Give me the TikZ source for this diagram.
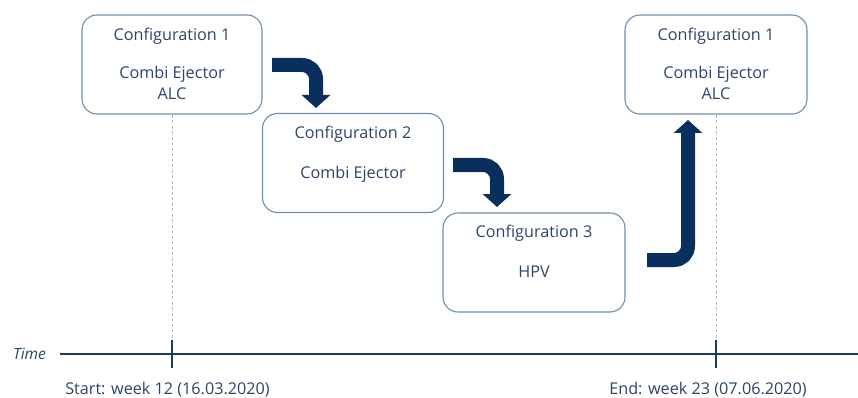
\documentclass[tikz,border=0pt]{standalone}
\usepackage{fontspec}
\setmainfont{Open Sans}
\usetikzlibrary{arrows.meta}
\definecolor{navy}{HTML}{0B2F5C}
\definecolor{txt}{HTML}{2C4566}
\definecolor{boxline}{HTML}{6F8DAE}
\definecolor{dash}{HTML}{A9B9CC}
\definecolor{axis}{HTML}{1C3A61}
\tikzset{
  cfgbox/.style={draw=boxline, line width=1.1pt, rounded corners=15pt, minimum width=#1, minimum height=99pt, inner sep=0pt},
  lbl/.style={text=txt, font=\fontsize{16.2}{19}\selectfont, anchor=base, inner sep=0pt},
  bigarrow/.style={draw=navy, line width=14pt, rounded corners=14pt, -{Triangle[width=28pt,length=13pt]}},
  guide/.style={draw=dash, line width=0.9pt, dash pattern=on 3pt off 2.5pt},
  axisline/.style={draw=axis, line width=2.6pt},
  tickmark/.style={draw=axis, line width=2pt}
}
\begin{document}
\begin{tikzpicture}[x=1pt,y=-1pt]
\useasboundingbox (0,0) rectangle (858,398);
% boxes
\node[cfgbox=180pt] (c1) at (172,64.5) {};
\node[cfgbox=181pt] (c2) at (353,163) {};
\node[cfgbox=182pt] (c3) at (534,262.5) {};
\node[cfgbox=182pt] (c4) at (716,64.5) {};
% texts
\node[lbl] (t1a) at (172,40.5) {Configuration 1};
\node[lbl] (t1b) at (172,79) {Combi Ejector};
\node[lbl] (t1c) at (172,99.5) {ALC};
\node[lbl] (t2a) at (353,139) {Configuration 2};
\node[lbl] (t2b) at (353,178.5) {Combi Ejector};
\node[lbl] (t3a) at (534,237.5) {Configuration 3};
\node[lbl] (t3b) at (534,277) {HPV};
\node[lbl] (t4a) at (716,40.5) {Configuration 1};
\node[lbl] (t4b) at (716,79) {Combi Ejector};
\node[lbl] (t4c) at (716,99.5) {ALC};
% timeline
\coordinate (ax0) at (60,354);
\coordinate (ax1) at (858,354);
\coordinate (tk1t) at (172,340);
\coordinate (tk1b) at (172,368);
\coordinate (tk2t) at (716,340);
\coordinate (tk2b) at (716,368);
\draw[guide] (c1.south) -- (tk1t);
\draw[guide] (c4.south) -- (tk2t);
\draw[axisline] (ax0) -- (ax1);
\draw[tickmark] (tk1t) -- (tk1b);
\draw[tickmark] (tk2t) -- (tk2b);
\node[text=txt, font=\fontsize{15.5}{18}\selectfont\itshape, anchor=base, inner sep=0pt] (time) at (29.5,359) {Time};
\node[lbl] (start) at (167.5,394.5) {Start: week 12 (16.03.2020)};
\node[lbl] (end) at (708,394.5) {End: week 23 (07.06.2020)};
% arrows
\coordinate (a1s) at (272,65);
\coordinate (a1c) at (316,65);
\coordinate (a1e) at (316,108);
\coordinate (a2s) at (453,165);
\coordinate (a2c) at (497,165);
\coordinate (a2e) at (497,207);
\coordinate (a3s) at (647,260);
\coordinate (a3c) at (688,260);
\coordinate (a3e) at (688,120);
\draw[bigarrow] (a1s) -- (a1c) -- (a1e);
\draw[bigarrow] (a2s) -- (a2c) -- (a2e);
\draw[bigarrow] (a3s) -- (a3c) -- (a3e);
\end{tikzpicture}
\end{document}
